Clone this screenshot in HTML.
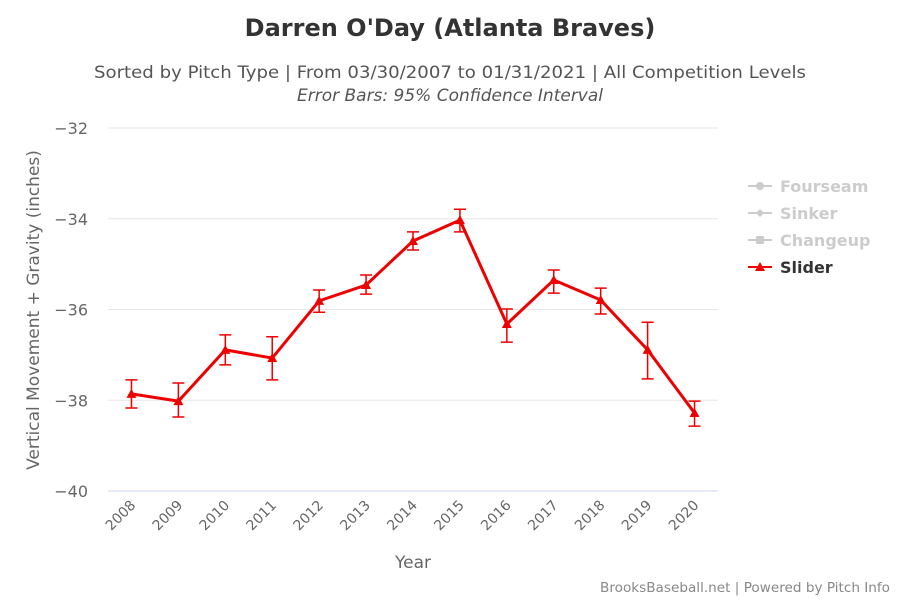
<!DOCTYPE html>
<html><head><meta charset="utf-8"><style>
body{margin:0;background:#fff;font-family:"DejaVu Sans",sans-serif}
svg text{font-family:"DejaVu Sans",sans-serif}
</style></head><body>
<svg id="chart" width="900" height="600">
<rect width="900" height="600" fill="#fff"/>
<text x="450" y="36" text-anchor="middle" font-size="24" font-weight="bold" fill="#333">Darren O'Day (Atlanta Braves)</text>
<text x="450" y="78" text-anchor="middle" font-size="17" fill="#555" textLength="712" lengthAdjust="spacingAndGlyphs">Sorted by Pitch Type | From 03/30/2007 to 01/31/2021 | All Competition Levels</text>
<text x="450" y="101" text-anchor="middle" font-size="17" font-style="italic" fill="#555" textLength="306" lengthAdjust="spacingAndGlyphs">Error Bars: 95% Confidence Interval</text>
<g id="grid"></g><g id="axes"></g><g id="series"></g>
<text transform="translate(39,310) rotate(-90)" text-anchor="middle" font-size="17" fill="#666">Vertical Movement + Gravity (inches)</text>
<text x="413" y="568" text-anchor="middle" font-size="17" fill="#666">Year</text>
<g>
<g><line x1="748" y1="186" x2="772" y2="186" stroke="#ccc" stroke-width="2"/><circle cx="760" cy="186" r="4" fill="#ccc"/><text x="780" y="192" font-size="16" font-weight="bold" fill="#ccc">Fourseam</text></g>
<g><line x1="748" y1="213" x2="772" y2="213" stroke="#ccc" stroke-width="2"/><path d="M760 209 L764 213 L760 217 L756 213Z" fill="#ccc"/><text x="780" y="219" font-size="16" font-weight="bold" fill="#ccc">Sinker</text></g>
<g><line x1="748" y1="240" x2="772" y2="240" stroke="#ccc" stroke-width="2"/><rect x="756" y="236" width="8" height="8" fill="#ccc"/><text x="780" y="246" font-size="16" font-weight="bold" fill="#ccc">Changeup</text></g>
<g><line x1="748" y1="267" x2="772" y2="267" stroke="#e00" stroke-width="2"/><path d="M760 262 L765 271 L755 271Z" fill="#e00"/><text x="780" y="273" font-size="16" font-weight="bold" fill="#333">Slider</text></g>
</g>
<text x="890" y="592" text-anchor="end" font-size="13" fill="#888" textLength="290" lengthAdjust="spacingAndGlyphs">BrooksBaseball.net | Powered by Pitch Info</text>
</svg>
<script>
const years=["2008","2009","2010","2011","2012","2013","2014","2015","2016","2017","2018","2019","2020"];
const values=[-37.86,-38.02,-36.89,-37.07,-35.81,-35.46,-34.49,-34.03,-36.32,-35.35,-35.79,-36.89,-38.28];
const upper=[-37.55,-37.62,-36.56,-36.6,-35.57,-35.24,-34.29,-33.79,-35.99,-35.13,-35.53,-36.28,-38.02];
const lower=[-38.17,-38.37,-37.22,-37.55,-36.06,-35.66,-34.69,-34.29,-36.72,-35.64,-36.1,-37.53,-38.57];
const yTicks=[-32,-34,-36,-38,-40];
const NS="http://www.w3.org/2000/svg";
const L=108,R=718,T=128,B=491,yMin=-40,yMax=-32;
const x=i=>L+(R-L)/years.length*(i+0.5);
const y=v=>B-(v-yMin)/(yMax-yMin)*(B-T);
function mk(t,a,p){const e=document.createElementNS(NS,t);for(const k in a)e.setAttribute(k,a[k]);p.appendChild(e);return e;}
const grid=document.getElementById('grid'),axes=document.getElementById('axes'),ser=document.getElementById('series');
yTicks.forEach(v=>{
 const g=mk('line',{x1:L,x2:R,y1:y(v),y2:y(v),stroke:v===yMin?'#ccd6eb':'#e6e6e6'},grid);
 
 
 const t=mk('text',{x:L-20,y:y(v)+6,'text-anchor':'end','font-size':16,fill:'#666'},axes);
 t.textContent='\u2212'+Math.abs(v);
 
 
});
years.forEach((yr,i)=>{
 const t=mk('text',{x:x(i)+5,y:506,'text-anchor':'end','font-size':14,fill:'#666',transform:`rotate(-45 ${x(i)+5} 506)`},axes);
 t.textContent=yr;
 
 
});
const pl=mk('polyline',{points:values.map((v,i)=>x(i)+','+y(v)).join(' '),fill:'none',stroke:'#e00','stroke-width':3},ser);


values.forEach((v,i)=>{
 const cx=x(i);
 const eb=mk('path',{d:`M${cx} ${y(upper[i])}V${y(lower[i])}M${cx-6} ${y(upper[i])}H${cx+6}M${cx-6} ${y(lower[i])}H${cx+6}`,stroke:'#e00','stroke-width':1.5,fill:'none'},ser);
 
 
 const cy=y(v);
 const m=mk('path',{d:`M${cx} ${cy-5}L${cx+5} ${cy+4}L${cx-5} ${cy+4}Z`,fill:'#e00'},ser);
 
 
});
</script>
</body></html>
